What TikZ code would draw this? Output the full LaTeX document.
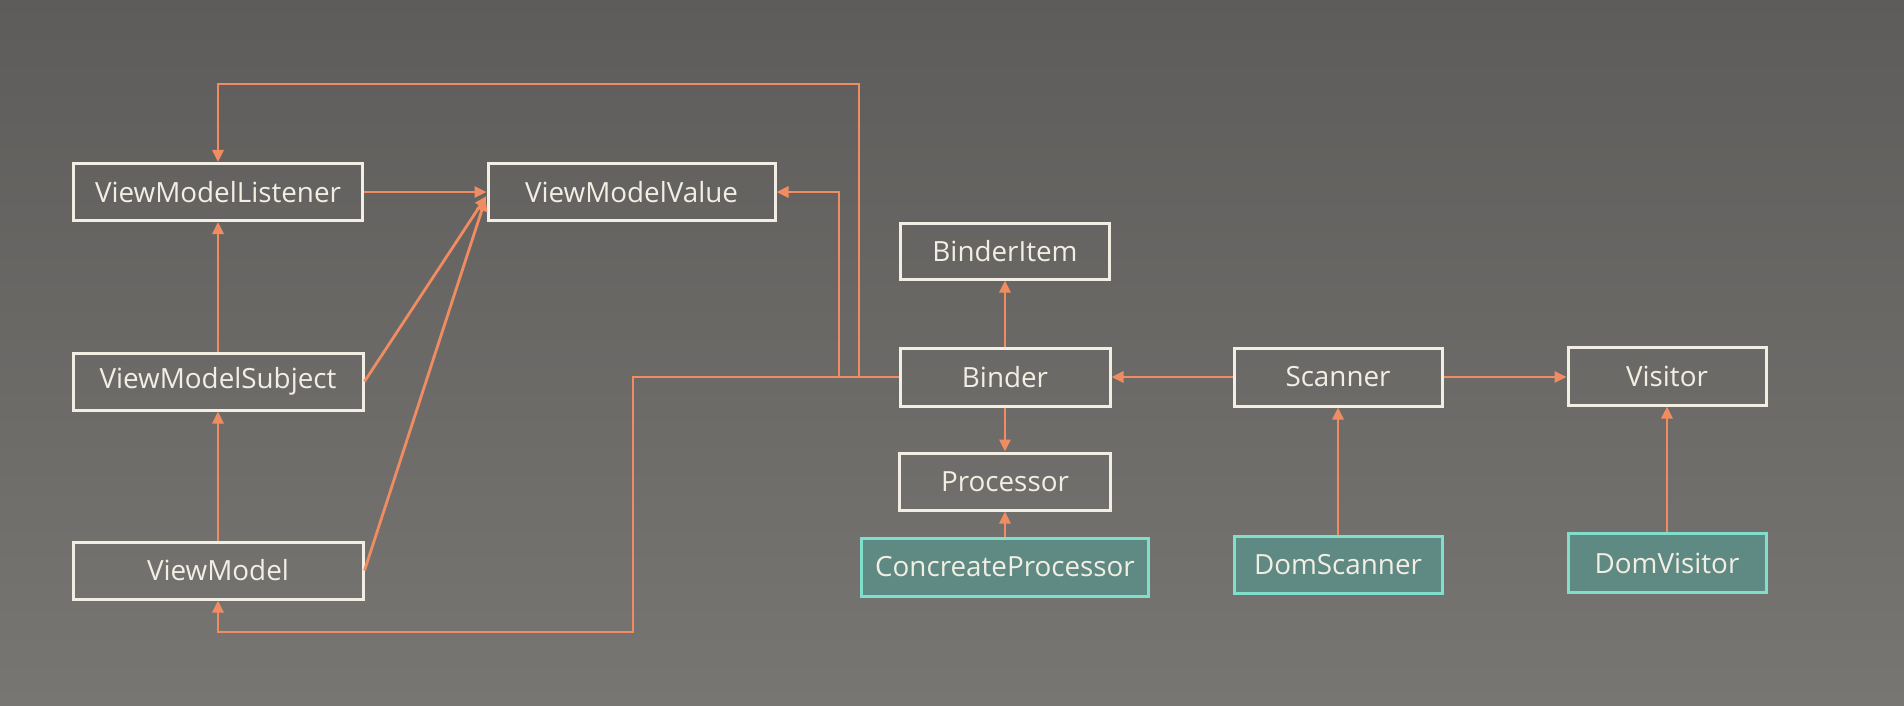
\documentclass[tikz,border=0pt]{standalone}
\usepackage{fontspec}
\setmainfont{Open Sans}
\usetikzlibrary{arrows.meta,calc}
\definecolor{bgtop}{HTML}{5E5C5A}
\definecolor{bgbot}{HTML}{787673}
\definecolor{ora}{HTML}{F08C62}
\definecolor{txt}{HTML}{F2EEE4}
\definecolor{tealfill}{HTML}{5F8A84}
\definecolor{tealline}{HTML}{80DECB}
\tikzset{
  cls/.style={draw=txt, line width=3pt, text=txt, inner sep=0pt, font=\fontsize{27.8}{32}\selectfont},
  impl/.style={cls, draw=tealline, fill=tealfill},
  arr/.style={draw=ora, line width=2.8pt, -{Triangle[length=12pt,width=11pt]}},
}
\begin{document}
\begin{tikzpicture}[x=1pt,y=-1pt]
\shade[top color=bgtop, bottom color=bgbot] (0,0) rectangle (1904,706);
\useasboundingbox (0,0) rectangle (1904,706);
% nodes
\node[cls, minimum width=289pt, minimum height=57pt] (VML) at (218,192) {ViewModelListener};
\node[cls, minimum width=287pt, minimum height=57pt] (VMV) at (631.5,192) {ViewModelValue};
\node[cls, minimum width=290pt, minimum height=57pt] (VMS) at (218,381.5) {ViewModelSubject};
\node[cls, minimum width=290pt, minimum height=57pt] (VM) at (218,570.5) {ViewModel};
\node[cls, minimum width=209pt, minimum height=56pt] (BI) at (1005,251) {BinderItem};
\node[cls, minimum width=210pt, minimum height=58pt] (B) at (1005,377) {Binder};
\node[cls, minimum width=211pt, minimum height=57pt] (P) at (1005,481.5) {Processor};
\node[impl, minimum width=287pt, minimum height=58pt] (CP) at (1005,567) {ConcreateProcessor};
\node[cls, minimum width=208pt, minimum height=58pt] (S) at (1338,377) {Scanner};
\node[impl, minimum width=208pt, minimum height=57pt] (DS) at (1338,565) {DomScanner};
\node[cls, minimum width=198pt, minimum height=58pt] (V) at (1667,376) {Visitor};
\node[impl, minimum width=198pt, minimum height=59pt] (DV) at (1667,563) {DomVisitor};
% connectors
\draw[arr] (B.west) -| (859,84) -| (VML.north);
\draw[arr] (B.west) -| (839,192) -- (VMV.east);
\draw[arr] (B.west) -| (633,632) -| (VM.south);
\draw[arr] (VML.east) -- (VMV.west);
\draw[arr] (VMS.east) -- ($(VMV.west)+(0,4)$);
\draw[arr] (VM.east) -- ($(VMV.west)+(-1,7)$);
\draw[arr] (VMS.north) -- (VML.south);
\draw[arr] (VM.north) -- (VMS.south);
\draw[arr] (B.north) -- (BI.south);
\draw[arr] (B.south) -- (P.north);
\draw[arr] (CP.north) -- (P.south);
\draw[arr] (S.west) -- (B.east);
\draw[arr] (S.east) -- (V.west |- S.east);
\draw[arr] (DS.north) -- (S.south);
\draw[arr] (DV.north) -- (V.south);
\end{tikzpicture}
\end{document}
